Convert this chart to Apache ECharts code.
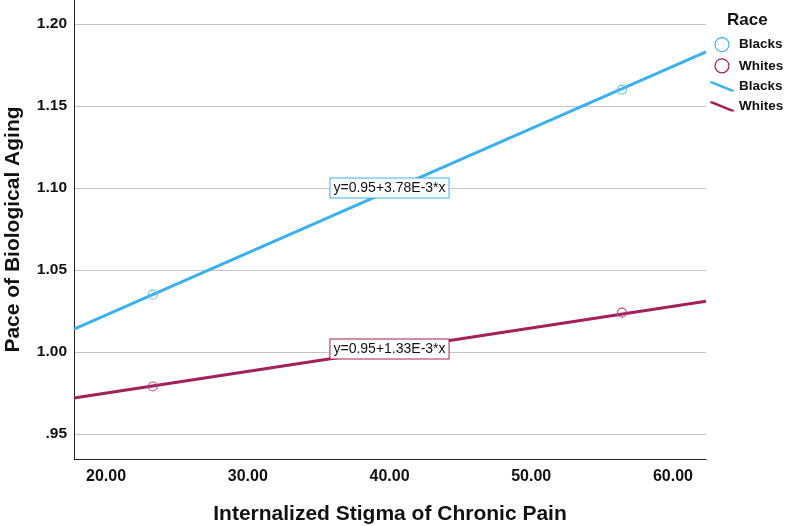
<!DOCTYPE html>
<html><head><meta charset="utf-8">
<script src="https://cdn.jsdelivr.net/npm/echarts@6/dist/echarts.min.js"></script>
<style>html,body{margin:0;padding:0;background:#fff}#c{width:789px;height:526px}</style>
</head><body><div id="c"></div>
<script>
// Data
const xTicks = [20, 30, 40, 50, 60];
const yTicks = [0.95, 1.00, 1.05, 1.10, 1.15, 1.20];
const lineX = [17.74, 62.33];          // fit line end points (x)
const blacksLineY = [1.014, 1.183];
const whitesLineY = [0.972, 1.031];
const pointX = [23.3, 56.4];           // marker positions
const blacksPointY = [1.035, 1.160];
const whitesPointY = [0.979, 1.024];
const eqText = ['y=0.95+3.78E-3*x', 'y=0.95+1.33E-3*x'];
const eqX = [40.0, 40.0];
const eqY = [1.10, 1.0018];

const BLUE = '#3cb0ee', RED = '#a2215a';
const FONT = 'Liberation Sans, Arial, sans-serif';
const linePath = 'path://M0,0 L3,0 L24,8.5 L24,10 L21,10 L0,1.5 Z';

const chart = echarts.init(document.getElementById('c'));
chart.setOption({
  animation: false,
  textStyle: {fontFamily: FONT},
  title: {text: 'Race', left: 722, top: 7, textStyle: {fontSize: 17, fontWeight: 'bold', color: '#111', fontFamily: FONT}},
  legend: {
    orient: 'vertical', left: 705, top: 32, itemWidth: 24, itemHeight: 14, itemGap: 6,
    textStyle: {fontSize: 13.5, fontWeight: 'bold', color: '#111', fontFamily: FONT},
    formatter: n => n.split('|')[0],
    data: [
      {name: 'Blacks|pt', icon: 'circle', itemStyle: {color: '#fff', borderColor: BLUE, borderWidth: 1.2}},
      {name: 'Whites|pt', icon: 'circle', itemStyle: {color: '#fff', borderColor: RED, borderWidth: 1.2}},
      {name: 'Blacks', icon: linePath, itemStyle: {color: BLUE}},
      {name: 'Whites', icon: linePath, itemStyle: {color: RED}}
    ]
  },
  grid: {left: 74, right: 83, top: 0, bottom: 67, outerBoundsMode: 'none', containLabel: false},
  xAxis: {
    type: 'value', min: 17.74, max: 62.33,
    name: 'Internalized Stigma of Chronic Pain', nameLocation: 'middle', nameGap: 45,
    nameTextStyle: {fontSize: 21, fontWeight: 'bold', color: '#111', fontFamily: FONT},
    axisLine: {lineStyle: {color: '#222', width: 1}},
    axisTick: {show: false, customValues: xTicks},
    axisLabel: {customValues: xTicks, formatter: v => v.toFixed(2), fontSize: 16, fontWeight: 'bold', color: '#111', margin: 10, fontFamily: FONT},
    splitLine: {show: false}
  },
  yAxis: {
    type: 'value', min: 0.9348, max: 1.2146,
    name: 'Pace of Biological Aging', nameLocation: 'middle', nameGap: 50, nameMoveOverlap: false,
    nameTextStyle: {fontSize: 21, fontWeight: 'bold', color: '#111', fontFamily: FONT},
    axisLine: {show: true, lineStyle: {color: '#222', width: 1}},
    axisTick: {show: false, customValues: yTicks},
    axisLabel: {customValues: yTicks, formatter: v => v.toFixed(2).replace(/^0/, ''), fontSize: 15.5, fontWeight: 'bold', color: '#111', margin: 7, fontFamily: FONT},
    splitLine: {show: true, lineStyle: {color: '#c4c4c4', width: 1}}
  },
  series: [
    {name: 'Blacks', type: 'line', data: lineX.map((x, i) => [x, blacksLineY[i]]), symbol: 'none', lineStyle: {color: BLUE, width: 3}, itemStyle: {color: BLUE}, z: 3},
    {name: 'Whites', type: 'line', data: lineX.map((x, i) => [x, whitesLineY[i]]), symbol: 'none', lineStyle: {color: RED, width: 3}, itemStyle: {color: RED}, z: 3},
    {name: 'Blacks|pt', type: 'scatter', data: pointX.map((x, i) => [x, blacksPointY[i]]), symbol: 'circle', symbolSize: 9, itemStyle: {opacity: 1, color: 'rgba(255,255,255,0)', borderColor: '#6fbfea', borderWidth: 1.2}, z: 4},
    {name: 'Whites|pt', type: 'scatter', data: pointX.map((x, i) => [x, whitesPointY[i]]), symbol: 'circle', symbolSize: 9, itemStyle: {opacity: 1, color: 'rgba(255,255,255,0)', borderColor: '#b04f7c', borderWidth: 1.2}, z: 4},
    {name: 'eq', type: 'scatter', symbolSize: 0, z: 10, silent: true, itemStyle: {opacity: 1},
      data: eqText.map((t, i) => ({value: [eqX[i], eqY[i]], label: {borderColor: i === 0 ? BLUE : RED}})),
      label: {show: true, position: 'inside', formatter: p => eqText[p.dataIndex], fontSize: 14, color: '#111', backgroundColor: '#fff', borderWidth: 1, padding: [3, 3, 2, 3], fontFamily: FONT}
    }
  ]
});
</script></body></html>
